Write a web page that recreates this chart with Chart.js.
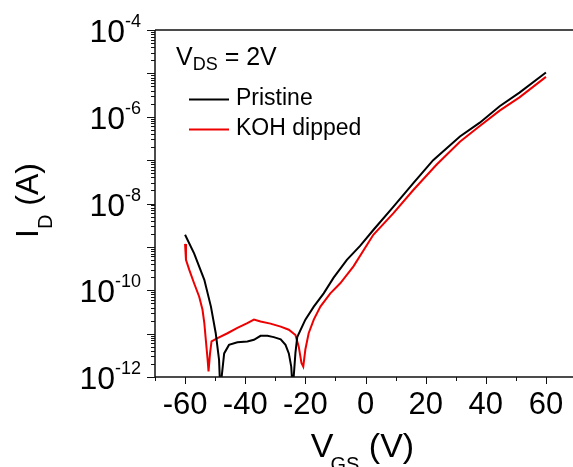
<!DOCTYPE html>
<html lang="en">
<head>
  <meta charset="UTF-8">
  <title>Transfer curves</title>
  <script src="https://cdn.jsdelivr.net/npm/chart.js"></script>
  <style>
    body, html { margin: 0; padding: 0; overflow: hidden; background: #fff; }
    #wrap { width: 573px; height: 467px; }
  </style>
</head>
<body>
  <div id="wrap"><canvas id="idChart"></canvas></div>

  <script>
    // Gate voltage (V) and drain current (A)
    const pristineV = [-60, -57, -53.6, -51.4, -49.8, -48.7, -48.3, -47.0, -45.4, -42.6, -39.3, -37.1, -34.9, -32.6, -30.5, -28.2, -26.6, -25.5, -24.7, -24.2, -23.3, -22.7, -20, -17.2, -13.9, -10.6, -6.2, -1.8, 2.6, 9.3, 15.9, 22.5, 31.4, 38, 44.6, 51.2, 60];
    const pristineI = [1.9e-9, 7.1e-10, 1.74e-10, 4.2e-11, 1.02e-11, 2.5e-12, 5e-13, 3.5e-12, 5.5e-12, 6.3e-12, 6.6e-12, 7.2e-12, 8.9e-12, 8.9e-12, 8.3e-12, 7.4e-12, 5.5e-12, 3.5e-12, 1.74e-12, 5e-13, 3.6e-12, 8.3e-12, 2.1e-11, 4.2e-11, 8.5e-11, 1.95e-10, 5.0e-10, 1.05e-9, 2.45e-9, 8.5e-9, 2.95e-8, 1.0e-7, 3.5e-7, 7.3e-7, 1.75e-6, 3.6e-6, 1.05e-5];

    const kohV = [-60, -59.7, -58.6, -57.0, -55.3, -54.2, -53.6, -53.1, -52.5, -52.2, -51.7, -51.2, -49.2, -45.9, -42.6, -39.3, -37.1, -34.9, -31.6, -28.2, -25.5, -23.3, -22.2, -21.3, -20.7, -20.0, -18.9, -17.2, -15.0, -11.7, -8.4, -4.0, 2.6, 9.3, 15.9, 23.6, 31.4, 38.0, 44.6, 51.2, 60];
    const kohI = [1.17e-9, 5.0e-10, 2.95e-10, 1.45e-10, 7.1e-11, 3.55e-11, 1.74e-11, 7.2e-12, 2.5e-12, 1.35e-12, 3.5e-12, 6.6e-12, 7.9e-12, 1.02e-11, 1.35e-11, 1.74e-11, 2.1e-11, 1.9e-11, 1.7e-11, 1.45e-11, 1.23e-11, 9.3e-12, 5.0e-12, 2.1e-12, 1.74e-12, 4.3e-12, 1.02e-11, 2.1e-11, 4.2e-11, 8.5e-11, 1.45e-10, 3.55e-10, 1.9e-9, 6.0e-9, 2.05e-8, 7.8e-8, 2.65e-7, 6.1e-7, 1.38e-6, 2.8e-6, 8.3e-6];

    const xTickValues = [-60, -40, -20, 0, 20, 40, 60];
    const xMinorValues = [-70, -50, -30, -10, 10, 30, 50];
    const yTickExps = [-4, -6, -8, -10, -12];
    const seriesNames = ['Pristine', 'KOH dipped'];

    const FONT = '"Liberation Sans", Arial, sans-serif';

    function toPoints(xs, ys) {
      return xs.map((v, i) => ({ x: v, y: ys[i] }));
    }

    // axes, tick labels, titles and the legend are drawn by hand (superscripts/subscripts)
    const decorations = {
      id: 'decorations',
      afterDraw(chart) {
        const ctx = chart.ctx;
        const xs = chart.scales.x, ys = chart.scales.y;
        const a = chart.chartArea;
        ctx.save();
        ctx.strokeStyle = '#111';
        ctx.fillStyle = '#000';

        // frame
        ctx.lineWidth = 1.5;
        ctx.beginPath();
        ctx.moveTo(a.left, a.top);
        ctx.lineTo(a.right, a.top);
        ctx.moveTo(a.left, a.top);
        ctx.lineTo(a.left, a.bottom);
        ctx.lineTo(a.right, a.bottom);
        ctx.stroke();

        // x ticks
        ctx.lineWidth = 1;
        ctx.beginPath();
        xTickValues.forEach(v => {
          const px = Math.round(xs.getPixelForValue(v)) + 0.5;
          ctx.moveTo(px, a.bottom); ctx.lineTo(px, a.bottom + 7);
        });
        xMinorValues.forEach(v => {
          if (v < xs.min || v > xs.max) return;
          const px = Math.round(xs.getPixelForValue(v)) + 0.5;
          ctx.moveTo(px, a.bottom); ctx.lineTo(px, a.bottom + 4);
        });
        // y ticks
        for (let e = -12; e <= -4; e++) {
          const py = Math.round(ys.getPixelForValue(Math.pow(10, e))) + 0.5;
          ctx.moveTo(a.left, py); ctx.lineTo(a.left - 8, py);
          if (e === -4) continue;
          for (let m = 2; m <= 9; m++) {
            const q = Math.round(ys.getPixelForValue(m * Math.pow(10, e))) + 0.5;
            ctx.moveTo(a.left, q); ctx.lineTo(a.left - 4, q);
          }
        }
        ctx.stroke();

        // x tick labels
        ctx.font = '31px ' + FONT;
        ctx.textAlign = 'center';
        ctx.textBaseline = 'alphabetic';
        xTickValues.forEach(v => {
          ctx.fillText(String(v), xs.getPixelForValue(v), a.bottom + 37);
        });

        // y tick labels 10^n
        yTickExps.forEach(e => {
          const py = ys.getPixelForValue(Math.pow(10, e));
          const sup = String(e);
          ctx.font = '18px ' + FONT;
          const supW = ctx.measureText(sup).width;
          ctx.textAlign = 'right';
          ctx.fillText(sup, 141, py - 3);
          ctx.font = '32px ' + FONT;
          ctx.fillText('10', 141 - supW, py + 12);
        });

        // x title: V_GS (V)
        ctx.textAlign = 'left';
        ctx.font = '34px ' + FONT;
        const wV = ctx.measureText('V').width;
        const wP = ctx.measureText(' (V)').width;
        ctx.font = '20px ' + FONT;
        const wGS = ctx.measureText('GS').width;
        let tx = (a.left + a.right) / 2 - (wV + wGS + wP) / 2;
        const tb = 457;
        ctx.font = '34px ' + FONT;
        ctx.fillText('V', tx, tb);
        ctx.font = '20px ' + FONT;
        ctx.fillText('GS', tx + wV - 3, tb + 14);
        ctx.font = '34px ' + FONT;
        ctx.fillText(' (V)', tx + wV + wGS - 3, tb);

        // y title: I_D (A), rotated
        ctx.save();
        ctx.translate(38, 238);
        ctx.rotate(-Math.PI / 2);
        ctx.font = '32px ' + FONT;
        ctx.fillText('I', 0, 0);
        const wI = ctx.measureText('I').width;
        ctx.font = '20px ' + FONT;
        ctx.fillText('D', wI, 14);
        const wD = ctx.measureText('D').width;
        ctx.font = '32px ' + FONT;
        ctx.fillText(' (A)', wI + wD, 0);
        ctx.restore();

        // legend
        ctx.font = '25px ' + FONT;
        ctx.fillText('V', 176, 65);
        const lv = ctx.measureText('V').width;
        ctx.font = '18px ' + FONT;
        ctx.fillText('DS', 176 + lv, 70);
        const lds = ctx.measureText('DS').width;
        ctx.font = '25px ' + FONT;
        ctx.fillText(' = 2V', 176 + lv + lds, 65);

        const colors = chart.data.datasets.map(d => d.borderColor);
        const rows = [99.5, 129.5];
        ctx.font = '23px ' + FONT;
        seriesNames.forEach((name, i) => {
          ctx.strokeStyle = colors[i];
          ctx.lineWidth = 2;
          ctx.beginPath();
          ctx.moveTo(189, rows[i]); ctx.lineTo(229, rows[i]);
          ctx.stroke();
          ctx.fillText(name, 236, rows[i] + 5);
        });
        ctx.restore();
      }
    };

    new Chart(document.getElementById('idChart'), {
      type: 'line',
      data: {
        datasets: [
          {
            label: seriesNames[0],
            data: toPoints(pristineV, pristineI),
            borderColor: '#000000',
            borderWidth: 2,
            pointRadius: 0,
            tension: 0
          },
          {
            label: seriesNames[1],
            data: toPoints(kohV, kohI),
            borderColor: '#ee0000',
            borderWidth: 2,
            pointRadius: 0,
            tension: 0
          }
        ]
      },
      options: {
        responsive: true,
        maintainAspectRatio: false,
        animation: false,
        layout: { padding: { top: 30, right: 0, left: 0, bottom: 0 } },
        scales: {
          x: {
            type: 'linear',
            min: -70,
            max: 69,
            grid: { display: false },
            border: { display: false },
            ticks: { display: false },
            afterFit: s => { s.height = 90; }
          },
          y: {
            type: 'logarithmic',
            min: 1e-12,
            max: 1e-4,
            grid: { display: false },
            border: { display: false },
            ticks: { display: false },
            afterFit: s => { s.width = 155; }
          }
        },
        plugins: {
          legend: { display: false },
          tooltip: { enabled: false }
        }
      },
      plugins: [decorations]
    });
  </script>
</body>
</html>
